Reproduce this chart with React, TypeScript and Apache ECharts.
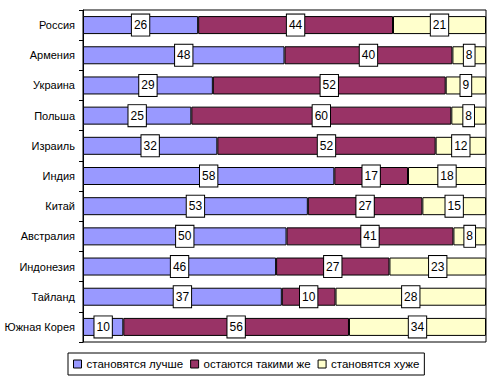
import React, { useEffect, useRef } from "react";
import * as echarts from "echarts";

const categories = ["Россия", "Армения", "Украина", "Польша", "Израиль", "Индия", "Китай", "Австралия", "Индонезия", "Тайланд", "Южная Корея"];
const better = [26, 48, 29, 25, 32, 58, 53, 50, 46, 37, 10];
const same = [44, 40, 52, 60, 52, 17, 27, 41, 27, 10, 56];
const worse = [21, 8, 9, 8, 12, 18, 15, 8, 23, 28, 34];
const seriesNames = ["становятся лучше", "остаются такими же", "становятся хуже"];
const colors = ["#9999FF", "#993366", "#FFFFCC"];

export default function App() {
  const ref = useRef<HTMLDivElement>(null);
  useEffect(() => {
    if (!ref.current) return;
    const chart = echarts.init(ref.current, null, { renderer: "svg" });
    const raw = [better, same, worse];
    const totals = categories.map((_, i) => better[i] + same[i] + worse[i]);
    const font = "Arial, 'Liberation Sans', sans-serif";
    chart.setOption({
      animation: false,
      textStyle: { fontFamily: font },
      grid: {
        left: 83,
        right: 7,
        top: 10,
        bottom: 43,
        show: true,
        borderColor: "#000",
        borderWidth: 1,
        backgroundColor: "transparent",
        containLabel: false,
        outerBoundsMode: "none",
      },
      legend: {
        left: 68,
        top: 353,
        padding: [5, 5, 5, 5],
        borderColor: "#000",
        borderWidth: 1,
        itemWidth: 8,
        itemHeight: 8,
        itemGap: 7,
        icon: "rect",
        textStyle: { color: "#000", fontSize: 11.5, fontFamily: font },
        itemStyle: { borderColor: "#000", borderWidth: 1 },
        data: seriesNames,
      },
      xAxis: {
        type: "value",
        min: 0,
        max: 100,
        show: false,
        splitLine: { show: false },
      },
      yAxis: {
        type: "category",
        inverse: true,
        data: categories,
        axisLine: { show: true, lineStyle: { color: "#000", width: 1 } },
        axisTick: { show: true, length: 4, inside: false, lineStyle: { color: "#000" } },
        axisLabel: { color: "#000", fontSize: 11, fontFamily: font, margin: 8 },
      },
      series: seriesNames.map((name, s) => ({
        name,
        type: "bar",
        stack: "total",
        barWidth: 18,
        itemStyle: { color: colors[s], borderColor: "#000", borderWidth: 1 },
        label: {
          show: true,
          position: "inside",
          color: "#000",
          fontSize: 12,
          fontFamily: font,
          backgroundColor: "#fff",
          borderColor: "#000",
          borderWidth: 1,
          padding: [5, 2, 4, 2],
          formatter: (p: any) => String(raw[s][p.dataIndex]),
        },
        data: raw[s].map((v, i) => (v / totals[i]) * 100),
      })),
    });
    return () => chart.dispose();
  }, []);
  return <div ref={ref} style={{ width: 493, height: 385, position: "absolute", left: 0, top: 0 }} />;
}
